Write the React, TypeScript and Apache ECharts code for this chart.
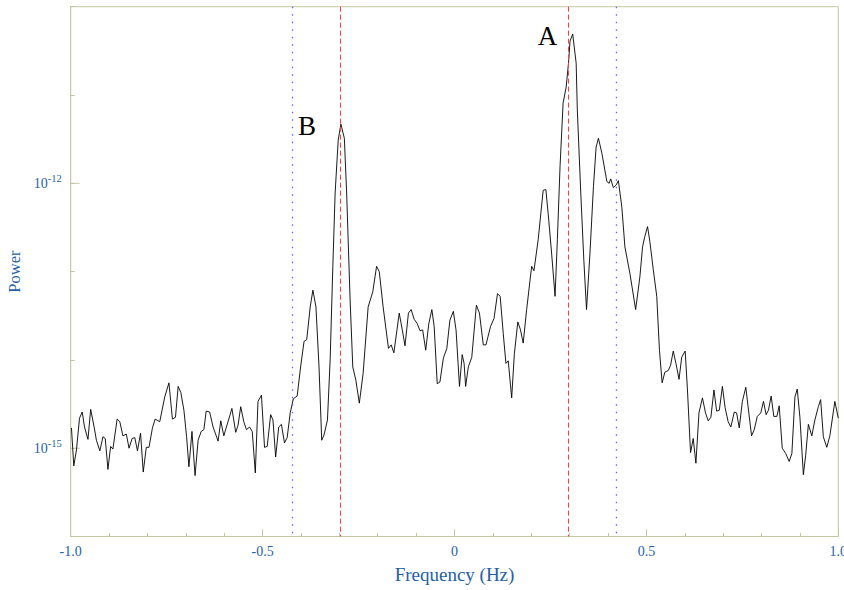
import React, { useEffect, useRef } from "react";
import * as echarts from "echarts";

const freq = [
  -0.998, -0.992, -0.985, -0.977, -0.970, -0.964, -0.955, -0.948, -0.939, -0.933,
  -0.924, -0.916, -0.910, -0.903, -0.896, -0.890, -0.879, -0.872, -0.864, -0.855,
  -0.848, -0.840, -0.833, -0.826, -0.818, -0.811, -0.803, -0.796, -0.787, -0.780,
  -0.768, -0.755, -0.744, -0.735, -0.727, -0.720, -0.713, -0.705, -0.698, -0.692,
  -0.684, -0.676, -0.668, -0.660, -0.653, -0.647, -0.638, -0.629, -0.616, -0.609,
  -0.601, -0.595, -0.588, -0.580, -0.570, -0.564, -0.557, -0.549, -0.542, -0.534,
  -0.527, -0.519, -0.512, -0.503, -0.495, -0.488, -0.479, -0.473, -0.466, -0.458,
  -0.451, -0.443, -0.436, -0.428, -0.420, -0.410, -0.401, -0.392, -0.385, -0.376,
  -0.369, -0.361, -0.353, -0.346, -0.340, -0.331, -0.324, -0.317, -0.311, -0.303,
  -0.296, -0.287, -0.281, -0.272, -0.265, -0.257, -0.248, -0.238, -0.225, -0.213,
  -0.203, -0.196, -0.186, -0.172, -0.165, -0.158, -0.144, -0.136, -0.129, -0.120,
  -0.113, -0.105, -0.097, -0.090, -0.083, -0.075, -0.067, -0.059, -0.053, -0.045,
  -0.038, -0.029, -0.020, -0.012, -0.003, 0.004, 0.013, 0.020, 0.025, 0.029,
  0.036, 0.045, 0.057, 0.065, 0.075, 0.082, 0.094, 0.103, 0.112, 0.119,
  0.127, 0.134, 0.140, 0.149, 0.156, 0.165, 0.172, 0.179, 0.188, 0.201,
  0.207, 0.218, 0.231, 0.238, 0.244, 0.253, 0.262, 0.268, 0.275, 0.283,
  0.291, 0.297, 0.301, 0.308, 0.317, 0.320, 0.329, 0.337, 0.344, 0.353,
  0.362, 0.369, 0.375, 0.384, 0.397, 0.403, 0.407, 0.414, 0.421, 0.427,
  0.436, 0.444, 0.457, 0.472, 0.483, 0.490, 0.496, 0.503, 0.509, 0.518,
  0.527, 0.534, 0.541, 0.548, 0.557, 0.563, 0.570, 0.577, 0.585, 0.592,
  0.601, 0.607, 0.615, 0.622, 0.629, 0.637, 0.646, 0.654, 0.661, 0.668,
  0.676, 0.683, 0.690, 0.698, 0.705, 0.713, 0.720, 0.729, 0.735, 0.742,
  0.750, 0.759, 0.765, 0.774, 0.781, 0.789, 0.798, 0.805, 0.812, 0.818,
  0.825, 0.832, 0.840, 0.846, 0.854, 0.863, 0.872, 0.879, 0.887, 0.893,
  0.900, 0.909, 0.915, 0.922, 0.931, 0.939, 0.948, 0.954, 0.961, 0.970,
  0.978, 0.991, 1.000,
];

// log10 of the power
const log10Power = [
  -14.77, -15.20, -15.02, -14.66, -14.59, -14.76, -14.90, -14.56, -14.76, -14.91,
  -15.03, -14.87, -14.89, -15.24, -14.98, -15.01, -14.67, -14.70, -14.86, -14.84,
  -15.00, -14.89, -14.88, -15.03, -14.83, -15.27, -14.99, -14.99, -14.77, -14.67,
  -14.70, -14.42, -14.26, -14.67, -14.65, -14.30, -14.37, -14.57, -14.87, -15.21,
  -14.81, -15.31, -14.91, -14.81, -14.79, -14.58, -14.59, -14.76, -14.92, -14.69,
  -14.86, -14.77, -14.67, -14.55, -14.82, -14.74, -14.53, -14.70, -14.79, -14.76,
  -14.81, -15.28, -14.47, -14.40, -14.99, -14.98, -14.62, -14.68, -15.10, -14.76,
  -14.73, -14.94, -14.88, -14.60, -14.44, -14.41, -14.08, -13.79, -13.77, -13.40,
  -13.21, -13.40, -14.08, -14.91, -14.85, -14.68, -14.00, -12.94, -12.11, -11.51,
  -11.33, -11.49, -12.11, -13.32, -14.08, -14.23, -14.49, -14.15, -13.40, -13.23,
  -12.94, -13.00, -13.40, -13.87, -13.83, -13.92, -13.47, -13.66, -13.84, -13.47,
  -13.43, -13.54, -13.59, -13.67, -13.66, -13.89, -13.59, -13.43, -13.62, -14.27,
  -14.25, -13.98, -13.87, -13.55, -13.45, -13.66, -14.30, -13.94, -14.04, -14.30,
  -14.08, -13.97, -13.38, -13.47, -13.83, -13.83, -13.62, -13.53, -13.25, -13.28,
  -13.70, -14.04, -14.01, -14.43, -13.93, -13.57, -13.66, -13.81, -13.43, -12.94,
  -12.99, -12.64, -12.08, -12.07, -12.34, -12.79, -13.28, -12.64, -11.81, -11.09,
  -10.91, -10.64, -10.39, -10.31, -10.64, -11.17, -12.11, -12.87, -13.43, -12.79,
  -12.04, -11.59, -11.49, -11.66, -11.98, -12.00, -11.95, -12.05, -12.02, -11.97,
  -12.27, -12.72, -13.02, -13.43, -13.06, -12.72, -12.60, -12.49, -12.66, -12.98,
  -13.28, -13.89, -14.26, -14.14, -14.12, -14.06, -13.90, -14.04, -14.22, -13.97,
  -13.90, -14.34, -15.05, -14.89, -15.17, -14.60, -14.43, -14.60, -14.69, -14.65,
  -14.34, -14.58, -14.57, -14.30, -14.54, -14.70, -14.76, -14.59, -14.60, -14.77,
  -14.47, -14.31, -14.53, -14.86, -14.79, -14.64, -14.60, -14.47, -14.62, -14.57,
  -14.41, -14.64, -14.64, -14.52, -15.00, -15.06, -15.15, -15.06, -14.42, -14.33,
  -14.65, -15.30, -15.08, -14.73, -14.86, -14.68, -14.53, -14.45, -14.87, -14.99,
  -14.86, -14.47, -14.66,
];

const redLines = [-0.297, 0.297];
const blueLines = [-0.422, 0.422];
const peakLabels = ["A", "B"];
const peakFreq = [0.242, -0.384];
const peakLog10Power = [-10.335, -11.354];
const labeledExponents = [-12, -15];
const yMin = 1e-16;
const yMax = 1e-10;

const FONT = '"Liberation Serif", "Times New Roman", serif';
const BLUE = "#1f5fa8";
const AXIS = "#c6c6a2";

export default function App() {
  const ref = useRef<HTMLDivElement>(null);

  useEffect(() => {
    const chart = echarts.init(ref.current!, null, { renderer: "svg" });
    const data = freq.map((f, i) => [f, Math.pow(10, log10Power[i])]);

    chart.setOption({
      animation: false,
      backgroundColor: "#ffffff",
      grid: {
        left: 70.7,
        right: 5.7,
        top: 6.7,
        bottom: 53.5,
        show: true,
        borderColor: AXIS,
        borderWidth: 1,
        backgroundColor: "transparent",
        containLabel: false,
        outerBoundsMode: "none",
      },
      xAxis: {
        type: "value",
        min: -1,
        max: 1,
        interval: 0.5,
        axisLine: { onZero: false, lineStyle: { color: AXIS, width: 1 } },
        axisTick: { inside: true, length: 7, lineStyle: { color: AXIS } },
        minorTick: { show: true, splitNumber: 5, length: 3.5, lineStyle: { color: AXIS } },
        splitLine: { show: false },
        minorSplitLine: { show: false },
        axisLabel: {
          formatter: (v: number) => {
            const r = Math.round(v * 10);
            if (r === 0) return "0";
            return (r / 10).toFixed(1);
          },
          color: BLUE,
          fontFamily: FONT,
          fontSize: 14,
          margin: 8,
        },
        name: "Frequency (Hz)",
        nameLocation: "middle",
        nameGap: 28,
        nameTextStyle: { color: BLUE, fontFamily: FONT, fontSize: 19 },
      },
      yAxis: {
        type: "log",
        logBase: 10,
        min: yMin,
        max: yMax,
        interval: 1,
        axisLine: { show: true, onZero: false, lineStyle: { color: AXIS, width: 1 } },
        axisTick: { show: true, inside: true, length: 4, lineStyle: { color: AXIS } },
        splitLine: { show: false },
        minorTick: { show: false },
        axisLabel: {
          margin: 9,
          formatter: (v: number) => {
            const e = Math.round(Math.log10(v));
            return labeledExponents.includes(e) ? `{b|10}{e|${e}}` : "";
          },
          rich: {
            b: { fontSize: 14, fontFamily: FONT, color: BLUE, lineHeight: 20 },
            e: { fontSize: 10.5, fontFamily: FONT, color: BLUE, verticalAlign: "top" },
          },
        },
        name: "Power",
        nameLocation: "middle",
        nameGap: 46,
        nameTextStyle: { color: BLUE, fontFamily: FONT, fontSize: 16.5 },
      },
      series: [
        {
          type: "line",
          data,
          symbol: "none",
          showSymbol: false,
          clip: true,
          lineStyle: { color: "#000000", width: 0.9 },
          silent: true,
          z: 3,
          markPoint: {
            symbol: "circle",
            symbolSize: 1,
            silent: true,
            itemStyle: { color: "transparent" },
            data: peakLabels.map((t, i) => ({
              coord: [peakFreq[i], Math.pow(10, peakLog10Power[i])],
              value: t,
              label: {
                show: true,
                formatter: t,
                position: "inside",
                color: "#000000",
                fontFamily: FONT,
                fontSize: 27,
              },
            })),
          },
        },
      ],
    });

    const px = (x: number, y: number) =>
      chart.convertToPixel({ gridIndex: 0 }, [x, y]) as number[];

    const vLine = (v: number, stroke: string, dash: number[], width: number) => {
      const a = px(v, yMax);
      const b = px(v, yMin);
      return {
        type: "line",
        silent: true,
        z: 10,
        shape: { x1: a[0], y1: a[1], x2: b[0], y2: b[1] },
        style: { stroke, lineWidth: width, lineDash: dash },
      };
    };

    const longTicks = labeledExponents.map((e) => {
      const p = px(-1, Math.pow(10, e));
      return {
        type: "line",
        silent: true,
        shape: { x1: p[0], y1: p[1], x2: p[0] + 9, y2: p[1] },
        style: { stroke: AXIS, lineWidth: 1 },
      };
    });

    chart.setOption({
      graphic: [
        ...longTicks,
        ...redLines.map((v) => vLine(v, "#ff3b3b", [5, 3], 1)),
        ...blueLines.map((v) => vLine(v, "#6666ff", [1.5, 6], 1.3)),
      ],
    });

    return () => chart.dispose();
  }, []);

  return (
    <div
      ref={ref}
      style={{ position: "absolute", left: 0, top: 0, width: 844, height: 590 }}
    />
  );
}
